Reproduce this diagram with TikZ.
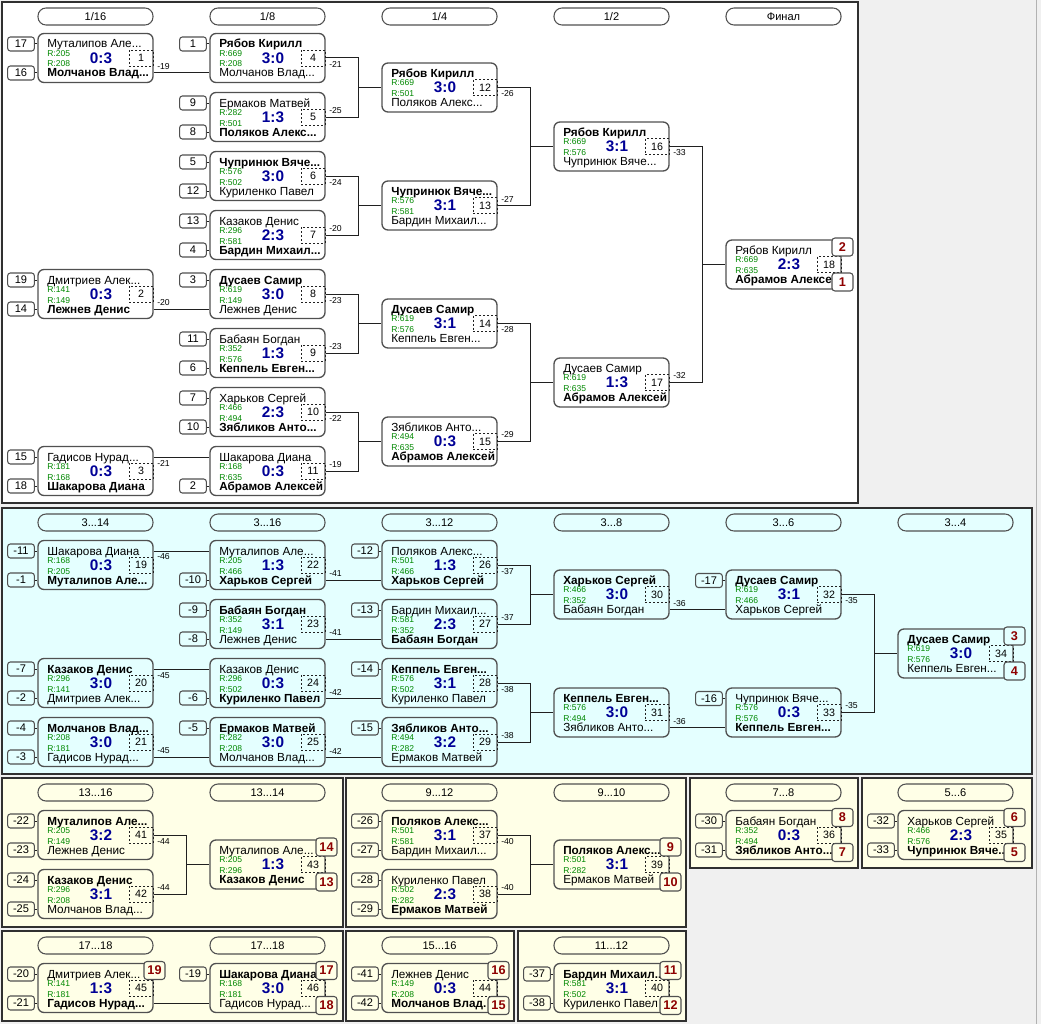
\documentclass[tikz,border=0pt]{standalone}
\usepackage{fontspec}
\setmainfont{Liberation Sans}
\usetikzlibrary{calc}

\definecolor{winbg}{HTML}{F0F0F0}
\definecolor{cyanbg}{HTML}{E4FFFF}
\definecolor{yelbg}{HTML}{FFFFE7}
\definecolor{rgreen}{HTML}{008800}
\definecolor{sblue}{HTML}{000096}
\definecolor{pred}{HTML}{8E0000}
\definecolor{bdr}{HTML}{505050}
\definecolor{pbdr}{HTML}{303030}
\definecolor{lin}{HTML}{202020}

% one match: #1 number, #2 left x, #3 centre y, #4 upper name, #5/#6 ratings, #7 score, #8 lower name
\newcommand\MatchAt[8]{%
  \node[mbox] (m#1) at ({#2+57.5},{#3}) {};
  \node[nm] (m#1a) at ({#2+9},{#3-10}) {#4};
  \node[rt] (m#1r) at ({#2+9},{#3-1.6}) {R:#5};
  \node[rt] (m#1s) at ({#2+9},{#3+9}) {R:#6};
  \node[sc] (m#1c) at ({#2+63},{#3}) {#7};
  \node[mnum] (m#1n) at ({#2+103},{#3}) {#1};
  \node[nm] (m#1b) at ({#2+9},{#3+19}) {#8};
}
% entry box left of a match: #1 node name, #2 match, #3 match left x, #4 row y, #5 text
\newcommand\SeedAt[5]{%
  \node[seed] (#1) at ({#3-17},{#4}) {#5};
  \draw[cn] (#1.east) -- (#1.east -| m#2.west);
}
% final place box: #1 fill, #2 node name, #3 x, #4 y, #5 text
\newcommand\PlaceAt[5]{\node[plc,fill=#1] (#2) at ({#3},{#4}) {#5};}
% connector label
\newcommand\LabelAt[4]{\node[lbl] (#1) at ({#2},{#3}) {#4};}
% round header
\newcommand\HeadAt[4]{\node[hdr] (#1) at ({#2},{#3}) {#4};}

\begin{document}
\begin{tikzpicture}[x=0.75pt,y=-0.75pt,
  mbox/.style={draw=bdr, line width=1pt, rounded corners=4.5pt, minimum width=86.25pt, minimum height=36.75pt, inner sep=0pt},
  nm/.style={anchor=base west, inner sep=0pt, font=\fontsize{8.8}{10}\selectfont},
  rt/.style={anchor=base west, inner sep=0pt, text=rgreen, font=\fontsize{6.4}{7}\selectfont},
  sc/.style={inner sep=0pt, text=sblue, font=\bfseries\fontsize{11.5}{12}\selectfont},
  mnum/.style={draw=lin, dash pattern=on 1.5pt off 1.5pt, line width=0.6pt, minimum width=18pt, minimum height=12pt, inner sep=0pt, font=\fontsize{8}{8}\selectfont},
  seed/.style={draw=bdr, line width=0.8pt, rounded corners=2pt, minimum width=20pt, minimum height=10.5pt, inner sep=0pt, font=\fontsize{8.3}{8}\selectfont},
  plc/.style={draw=bdr, line width=0.8pt, rounded corners=2.2pt, minimum width=15.75pt, minimum height=13.5pt, inner sep=0pt, text=pred, font=\bfseries\fontsize{9.5}{10}\selectfont},
  hdr/.style={draw=bdr, line width=0.8pt, rounded corners=6pt, minimum width=86.25pt, minimum height=12.75pt, inner sep=0pt, font=\fontsize{8.3}{8}\selectfont},
  lbl/.style={anchor=west, inner sep=0pt, font=\fontsize{6.5}{7}\selectfont},
  cn/.style={draw=lin, line width=0.75pt},
  panel/.style={draw=pbdr, line width=1.1pt},
]
% background and panels
\fill[winbg] (0,0) rectangle (1041,1024);
\useasboundingbox (0,0) rectangle (1041,1024);
\draw[gray!60, line width=0.75pt] (1036,0) -- (1036,1024);
\filldraw[panel, fill=white] (2,2) rectangle (858,503);
\filldraw[panel, fill=cyanbg] (2,508) rectangle (1032,774);
\filldraw[panel, fill=yelbg] (2,778) rectangle (343,927);
\filldraw[panel, fill=yelbg] (346,778) rectangle (686,927);
\filldraw[panel, fill=yelbg] (690,778) rectangle (858,868);
\filldraw[panel, fill=yelbg] (862,778) rectangle (1032,868);
\filldraw[panel, fill=yelbg] (2,931) rectangle (343,1021);
\filldraw[panel, fill=yelbg] (346,931) rectangle (514,1021);
\filldraw[panel, fill=yelbg] (518,931) rectangle (686,1021);

% ---------- main bracket ----------
\HeadAt{h1}{95.5}{16.5}{1/16}
\HeadAt{h2}{267.5}{16.5}{1/8}
\HeadAt{h3}{439.5}{16.5}{1/4}
\HeadAt{h4}{611.5}{16.5}{1/2}
\HeadAt{h5}{783.5}{16.5}{Финал}

\MatchAt{1}{38}{58}{Муталипов Але...}{205}{208}{0:3}{\textbf{Молчанов Влад...}}
\MatchAt{2}{38}{294}{Дмитриев Алек...}{141}{149}{0:3}{\textbf{Лежнев Денис}}
\MatchAt{3}{38}{471}{Гадисов Нурад...}{181}{168}{0:3}{\textbf{Шакарова Диана}}
\MatchAt{4}{210}{58}{\textbf{Рябов Кирилл}}{669}{208}{3:0}{Молчанов Влад...}
\MatchAt{5}{210}{117}{Ермаков Матвей}{282}{501}{1:3}{\textbf{Поляков Алекс...}}
\MatchAt{6}{210}{176}{\textbf{Чупринюк Вяче...}}{576}{502}{3:0}{Куриленко Павел}
\MatchAt{7}{210}{235}{Казаков Денис}{296}{581}{2:3}{\textbf{Бардин Михаил...}}
\MatchAt{8}{210}{294}{\textbf{Дусаев Самир}}{619}{149}{3:0}{Лежнев Денис}
\MatchAt{9}{210}{353}{Бабаян Богдан}{352}{576}{1:3}{\textbf{Кеппель Евген...}}
\MatchAt{10}{210}{412}{Харьков Сергей}{466}{494}{2:3}{\textbf{Зябликов Анто...}}
\MatchAt{11}{210}{471}{Шакарова Диана}{168}{635}{0:3}{\textbf{Абрамов Алексей}}
\MatchAt{12}{382}{87.5}{\textbf{Рябов Кирилл}}{669}{501}{3:0}{Поляков Алекс...}
\MatchAt{13}{382}{205.5}{\textbf{Чупринюк Вяче...}}{576}{581}{3:1}{Бардин Михаил...}
\MatchAt{14}{382}{323.5}{\textbf{Дусаев Самир}}{619}{576}{3:1}{Кеппель Евген...}
\MatchAt{15}{382}{441.5}{Зябликов Анто...}{494}{635}{0:3}{\textbf{Абрамов Алексей}}
\MatchAt{16}{554}{146.5}{\textbf{Рябов Кирилл}}{669}{576}{3:1}{Чупринюк Вяче...}
\MatchAt{17}{554}{382.5}{Дусаев Самир}{619}{635}{1:3}{\textbf{Абрамов Алексей}}
\MatchAt{18}{726}{264.5}{Рябов Кирилл}{669}{635}{2:3}{\textbf{Абрамов Алексе}}

\SeedAt{s1a}{1}{38}{44}{17}
\SeedAt{s1b}{1}{38}{73}{16}
\SeedAt{s2a}{2}{38}{280}{19}
\SeedAt{s2b}{2}{38}{309}{14}
\SeedAt{s3a}{3}{38}{457}{15}
\SeedAt{s3b}{3}{38}{486}{18}
\SeedAt{s4a}{4}{210}{44}{1}
\SeedAt{s5a}{5}{210}{103}{9}
\SeedAt{s5b}{5}{210}{132}{8}
\SeedAt{s6a}{6}{210}{162}{5}
\SeedAt{s6b}{6}{210}{191}{12}
\SeedAt{s7a}{7}{210}{221}{13}
\SeedAt{s7b}{7}{210}{250}{4}
\SeedAt{s8a}{8}{210}{280}{3}
\SeedAt{s9a}{9}{210}{339}{11}
\SeedAt{s9b}{9}{210}{368}{6}
\SeedAt{s10a}{10}{210}{398}{7}
\SeedAt{s10b}{10}{210}{427}{10}
\SeedAt{s11b}{11}{210}{486}{2}

\draw[cn] ($(m1.east)+(0,15)$) -- ($(m4.west)+(0,15)$);
\draw[cn] ($(m2.east)+(0,15)$) -- ($(m8.west)+(0,15)$);
\draw[cn] ($(m3.east)+(0,-14)$) -- ($(m11.west)+(0,-14)$);
\LabelAt{l1}{157}{67}{-19}
\LabelAt{l2}{157}{303}{-20}
\LabelAt{l3}{157}{463}{-21}
\foreach \a/\b/\t in {4/5/12, 6/7/13, 8/9/14, 10/11/15, 12/13/16, 14/15/17, 16/17/18}{
  \draw[cn] (m\a.east) -- ++(33,0) |- (m\t.west);
  \draw[cn] (m\b.east) -- ++(33,0) |- (m\t.west);
}
\LabelAt{l4}{329}{64.5}{-21}
\LabelAt{l5}{329}{110.5}{-25}
\LabelAt{l6}{329}{182.5}{-24}
\LabelAt{l7}{329}{228.5}{-20}
\LabelAt{l8}{329}{300.5}{-23}
\LabelAt{l9}{329}{346.5}{-23}
\LabelAt{l10}{329}{418.5}{-22}
\LabelAt{l11}{329}{464.5}{-19}
\LabelAt{l12}{501}{94}{-26}
\LabelAt{l13}{501}{199}{-27}
\LabelAt{l14}{501}{330}{-28}
\LabelAt{l15}{501}{435}{-29}
\LabelAt{l16}{673}{153}{-33}
\LabelAt{l17}{673}{376}{-32}

\PlaceAt{white}{p2}{842.5}{247}{2}
\PlaceAt{white}{p1}{842.5}{282}{1}

% ---------- places 3 and below ----------
\HeadAt{h6}{95.5}{522.5}{3...14}
\HeadAt{h7}{267.5}{522.5}{3...16}
\HeadAt{h8}{439.5}{522.5}{3...12}
\HeadAt{h9}{611.5}{522.5}{3...8}
\HeadAt{h10}{783.5}{522.5}{3...6}
\HeadAt{h11}{955.5}{522.5}{3...4}

\MatchAt{19}{38}{565}{Шакарова Диана}{168}{205}{0:3}{\textbf{Муталипов Але...}}
\MatchAt{20}{38}{683}{\textbf{Казаков Денис}}{296}{141}{3:0}{Дмитриев Алек...}
\MatchAt{21}{38}{742}{\textbf{Молчанов Влад...}}{208}{181}{3:0}{Гадисов Нурад...}
\MatchAt{22}{210}{565}{Муталипов Але...}{205}{466}{1:3}{\textbf{Харьков Сергей}}
\MatchAt{23}{210}{624}{\textbf{Бабаян Богдан}}{352}{149}{3:1}{Лежнев Денис}
\MatchAt{24}{210}{683}{Казаков Денис}{296}{502}{0:3}{\textbf{Куриленко Павел}}
\MatchAt{25}{210}{742}{\textbf{Ермаков Матвей}}{282}{208}{3:0}{Молчанов Влад...}
\MatchAt{26}{382}{565}{Поляков Алекс...}{501}{466}{1:3}{\textbf{Харьков Сергей}}
\MatchAt{27}{382}{624}{Бардин Михаил...}{581}{352}{2:3}{\textbf{Бабаян Богдан}}
\MatchAt{28}{382}{683}{\textbf{Кеппель Евген...}}{576}{502}{3:1}{Куриленко Павел}
\MatchAt{29}{382}{742}{\textbf{Зябликов Анто...}}{494}{282}{3:2}{Ермаков Матвей}
\MatchAt{30}{554}{594.5}{\textbf{Харьков Сергей}}{466}{352}{3:0}{Бабаян Богдан}
\MatchAt{31}{554}{712.5}{\textbf{Кеппель Евген...}}{576}{494}{3:0}{Зябликов Анто...}
\MatchAt{32}{726}{594.5}{\textbf{Дусаев Самир}}{619}{466}{3:1}{Харьков Сергей}
\MatchAt{33}{726}{712.5}{Чупринюк Вяче...}{576}{576}{0:3}{\textbf{Кеппель Евген...}}
\MatchAt{34}{898}{653.5}{\textbf{Дусаев Самир}}{619}{576}{3:0}{Кеппель Евген...}

\SeedAt{s19a}{19}{38}{551}{-11}
\SeedAt{s19b}{19}{38}{580}{-1}
\SeedAt{s20a}{20}{38}{669}{-7}
\SeedAt{s20b}{20}{38}{698}{-2}
\SeedAt{s21a}{21}{38}{728}{-4}
\SeedAt{s21b}{21}{38}{757}{-3}
\SeedAt{s22b}{22}{210}{580}{-10}
\SeedAt{s23a}{23}{210}{610}{-9}
\SeedAt{s23b}{23}{210}{639}{-8}
\SeedAt{s24b}{24}{210}{698}{-6}
\SeedAt{s25a}{25}{210}{728}{-5}
\SeedAt{s26a}{26}{382}{551}{-12}
\SeedAt{s27a}{27}{382}{610}{-13}
\SeedAt{s28a}{28}{382}{669}{-14}
\SeedAt{s29a}{29}{382}{728}{-15}
\SeedAt{s32a}{32}{726}{580.5}{-17}
\SeedAt{s33a}{33}{726}{698.5}{-16}

\draw[cn] ($(m19.east)+(0,-14)$) -- ($(m22.west)+(0,-14)$);
\draw[cn] ($(m20.east)+(0,-14)$) -- ($(m24.west)+(0,-14)$);
\draw[cn] ($(m21.east)+(0,15)$) -- ($(m25.west)+(0,15)$);
\draw[cn] ($(m22.east)+(0,15)$) -- ($(m26.west)+(0,15)$);
\draw[cn] ($(m23.east)+(0,15)$) -- ($(m27.west)+(0,15)$);
\draw[cn] ($(m24.east)+(0,15)$) -- ($(m28.west)+(0,15)$);
\draw[cn] ($(m25.east)+(0,15)$) -- ($(m29.west)+(0,15)$);
\draw[cn] ($(m30.east)+(0,15)$) -- ($(m32.west)+(0,15)$);
\draw[cn] ($(m31.east)+(0,15)$) -- ($(m33.west)+(0,15)$);
\foreach \a/\b/\t in {26/27/30, 28/29/31, 32/33/34}{
  \draw[cn] (m\a.east) -- ++(33,0) |- (m\t.west);
  \draw[cn] (m\b.east) -- ++(33,0) |- (m\t.west);
}
\LabelAt{l19}{157}{557}{-46}
\LabelAt{l20}{157}{676}{-45}
\LabelAt{l21}{157}{751}{-45}
\LabelAt{l22}{329}{574}{-41}
\LabelAt{l23}{329}{633}{-41}
\LabelAt{l24}{329}{692}{-42}
\LabelAt{l25}{329}{751}{-42}
\LabelAt{l26}{501}{571.5}{-37}
\LabelAt{l27}{501}{617.5}{-37}
\LabelAt{l28}{501}{689.5}{-38}
\LabelAt{l29}{501}{735.5}{-38}
\LabelAt{l30}{673}{603.5}{-36}
\LabelAt{l31}{673}{721.5}{-36}
\LabelAt{l32}{845}{601}{-35}
\LabelAt{l33}{845}{706}{-35}

\PlaceAt{cyanbg}{p3}{1014.5}{636}{3}
\PlaceAt{cyanbg}{p4}{1014.5}{671}{4}

% ---------- places 13-16 ----------
\HeadAt{h12}{95.5}{792.5}{13...16}
\HeadAt{h13}{267.5}{792.5}{13...14}
\MatchAt{41}{38}{835}{\textbf{Муталипов Але...}}{205}{149}{3:2}{Лежнев Денис}
\MatchAt{42}{38}{894}{\textbf{Казаков Денис}}{296}{208}{3:1}{Молчанов Влад...}
\MatchAt{43}{210}{864.5}{Муталипов Але...}{205}{296}{1:3}{\textbf{Казаков Денис}}
\SeedAt{s41a}{41}{38}{821}{-22}
\SeedAt{s41b}{41}{38}{850}{-23}
\SeedAt{s42a}{42}{38}{880}{-24}
\SeedAt{s42b}{42}{38}{909}{-25}
\draw[cn] (m41.east) -- ++(33,0) |- (m43.west);
\draw[cn] (m42.east) -- ++(33,0) |- (m43.west);
\LabelAt{l41}{157}{841.5}{-44}
\LabelAt{l42}{157}{887.5}{-44}
\PlaceAt{yelbg}{p14}{326.5}{847}{14}
\PlaceAt{yelbg}{p13}{326.5}{882}{13}

% ---------- places 9-12 ----------
\HeadAt{h14}{439.5}{792.5}{9...12}
\HeadAt{h15}{611.5}{792.5}{9...10}
\MatchAt{37}{382}{835}{\textbf{Поляков Алекс...}}{501}{581}{3:1}{Бардин Михаил...}
\MatchAt{38}{382}{894}{Куриленко Павел}{502}{282}{2:3}{\textbf{Ермаков Матвей}}
\MatchAt{39}{554}{864.5}{\textbf{Поляков Алекс...}}{501}{282}{3:1}{Ермаков Матвей}
\SeedAt{s37a}{37}{382}{821}{-26}
\SeedAt{s37b}{37}{382}{850}{-27}
\SeedAt{s38a}{38}{382}{880}{-28}
\SeedAt{s38b}{38}{382}{909}{-29}
\draw[cn] (m37.east) -- ++(33,0) |- (m39.west);
\draw[cn] (m38.east) -- ++(33,0) |- (m39.west);
\LabelAt{l37}{501}{841.5}{-40}
\LabelAt{l38}{501}{887.5}{-40}
\PlaceAt{yelbg}{p9}{670.5}{847}{9}
\PlaceAt{yelbg}{p10}{670.5}{882}{10}

% ---------- places 7-8 ----------
\HeadAt{h16}{783.5}{792.5}{7...8}
\MatchAt{36}{726}{835}{Бабаян Богдан}{352}{494}{0:3}{\textbf{Зябликов Анто...}}
\SeedAt{s36a}{36}{726}{821}{-30}
\SeedAt{s36b}{36}{726}{850}{-31}
\PlaceAt{yelbg}{p8}{842.5}{817.5}{8}
\PlaceAt{yelbg}{p7}{842.5}{852.5}{7}

% ---------- places 5-6 ----------
\HeadAt{h17}{955.5}{792.5}{5...6}
\MatchAt{35}{898}{835}{Харьков Сергей}{466}{576}{2:3}{\textbf{Чупринюк Вяче...}}
\SeedAt{s35a}{35}{898}{821}{-32}
\SeedAt{s35b}{35}{898}{850}{-33}
\PlaceAt{yelbg}{p6}{1014.5}{817.5}{6}
\PlaceAt{yelbg}{p5}{1014.5}{852.5}{5}

% ---------- places 17-19 ----------
\HeadAt{h18}{95.5}{945.5}{17...18}
\HeadAt{h19}{267.5}{945.5}{17...18}
\MatchAt{45}{38}{988}{Дмитриев Алек...}{141}{181}{1:3}{\textbf{Гадисов Нурад...}}
\MatchAt{46}{210}{988}{\textbf{Шакарова Диана}}{168}{181}{3:0}{Гадисов Нурад...}
\SeedAt{s45a}{45}{38}{974}{-20}
\SeedAt{s45b}{45}{38}{1003}{-21}
\SeedAt{s46a}{46}{210}{974}{-19}
\draw[cn] ($(m45.east)+(0,15)$) -- ($(m46.west)+(0,15)$);
\PlaceAt{yelbg}{p19}{154.5}{970.5}{19}
\PlaceAt{yelbg}{p17}{326.5}{970.5}{17}
\PlaceAt{yelbg}{p18}{326.5}{1005.5}{18}

% ---------- places 15-16 ----------
\HeadAt{h20}{439.5}{945.5}{15...16}
\MatchAt{44}{382}{988}{Лежнев Денис}{149}{208}{0:3}{\textbf{Молчанов Влад.}}
\SeedAt{s44a}{44}{382}{974}{-41}
\SeedAt{s44b}{44}{382}{1003}{-42}
\PlaceAt{yelbg}{p16}{498.5}{970.5}{16}
\PlaceAt{yelbg}{p15}{498.5}{1005.5}{15}

% ---------- places 11-12 ----------
\HeadAt{h21}{611.5}{945.5}{11...12}
\MatchAt{40}{554}{988}{\textbf{Бардин Михаил..}}{581}{502}{3:1}{Куриленко Павел}
\SeedAt{s40a}{40}{554}{974}{-37}
\SeedAt{s40b}{40}{554}{1003}{-38}
\PlaceAt{yelbg}{p11}{670.5}{970.5}{11}
\PlaceAt{yelbg}{p12}{670.5}{1005.5}{12}
\end{tikzpicture}
\end{document}
